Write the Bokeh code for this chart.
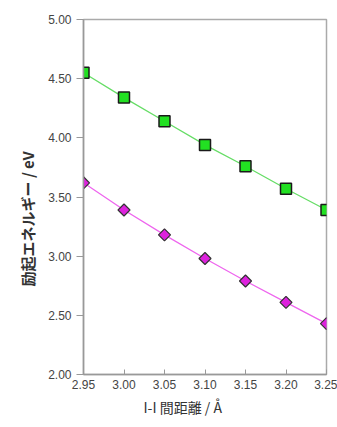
import numpy as np
from bokeh.plotting import figure
from bokeh.models import FixedTicker, NumeralTickFormatter, Range1d, Title
from bokeh.embed import file_html
from bokeh.resources import INLINE

distance = [2.95, 3.00, 3.05, 3.10, 3.15, 3.20, 3.25]
energy_upper = [4.55, 4.34, 4.14, 3.94, 3.76, 3.57, 3.39]
energy_lower = [3.62, 3.39, 3.18, 2.98, 2.79, 2.61, 2.43]
x_ticks = [2.95, 3.00, 3.05, 3.10, 3.15, 3.20, 3.25]
y_ticks = [2.00, 2.50, 3.00, 3.50, 4.00, 4.50, 5.00]
x_title = "I-I 間距離 / Å"
y_title = "励起エネルギー / eV"

p = figure(width=337, height=427, output_backend="svg", toolbar_location=None,
           x_range=Range1d(2.95, 3.25), y_range=Range1d(2.0, 5.0),
           min_border_left=83, min_border_right=11, min_border_top=19, min_border_bottom=53)

p.line(distance, energy_upper, line_color="#66dd66", line_width=1.3)
p.scatter(distance, energy_upper, marker="square", size=11, fill_color="#22e022",
          line_color="#1a1a1a", line_width=1.5)
p.line(distance, energy_lower, line_color="#ee66ee", line_width=1.3)
p.scatter(distance, energy_lower, marker="square", size=8.5, angle=np.pi / 4,
          fill_color="#dd22dd", line_color="#333333", line_width=1.2)

p.xgrid.visible = False
p.ygrid.visible = False
p.outline_line_color = "#aaaaaa"
p.outline_line_width = 1.5

for ax in (p.xaxis, p.yaxis):
    ax.axis_line_color = "#999999"
    ax.axis_line_width = 1.5
    ax.major_tick_line_color = "#999999"
    ax.minor_tick_line_color = None
    ax.major_label_text_font = "Liberation Sans"
    ax.major_label_text_font_size = "12px"
    ax.major_label_text_color = "#444444"

p.xaxis.ticker = FixedTicker(ticks=x_ticks)
p.yaxis.ticker = FixedTicker(ticks=y_ticks)
p.xaxis.formatter = NumeralTickFormatter(format="0.00")
p.yaxis.formatter = NumeralTickFormatter(format="0.00")
p.xaxis.major_tick_in = 5
p.xaxis.major_tick_out = 0
p.yaxis.major_tick_in = 0
p.yaxis.major_tick_out = 7

p.add_layout(Title(text=x_title, align="left", offset=60, standoff=7,
                   text_font="Noto Sans CJK JP", text_font_size="14px",
                   text_font_style="normal", text_color="#333333"), "below")
p.add_layout(Title(text=y_title, align="left", offset=88, standoff=16,
                   text_font="Noto Sans CJK JP", text_font_size="15px",
                   text_font_style="bold", text_color="#333333"), "left")

open("out.html", "w").write(file_html(p, INLINE))
